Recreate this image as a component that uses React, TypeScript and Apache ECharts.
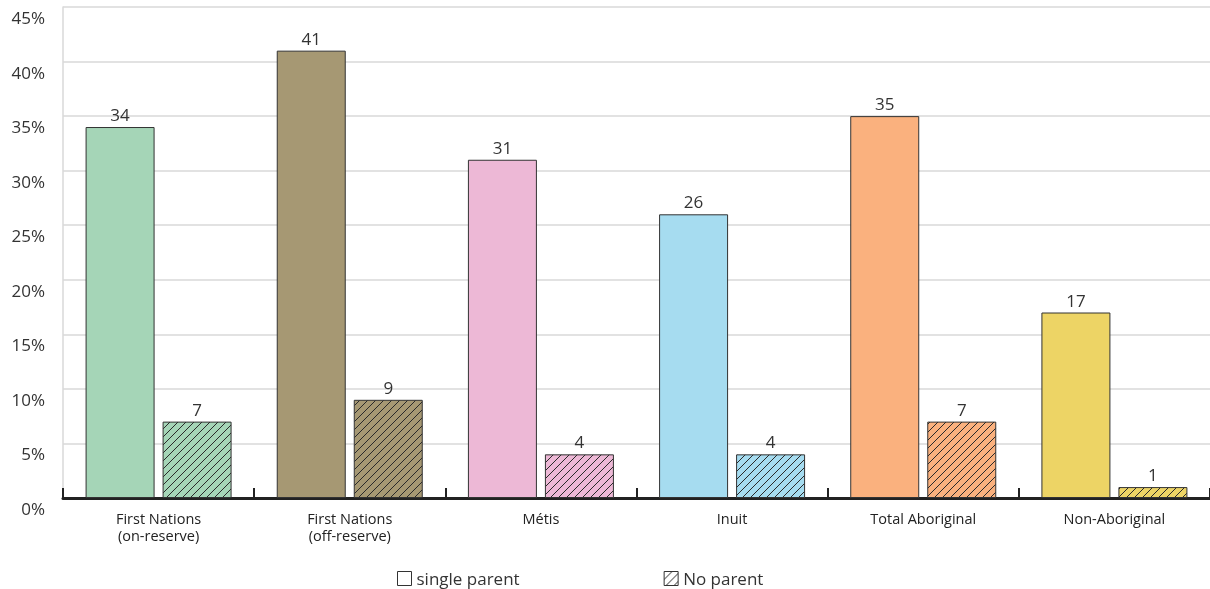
import React, { useEffect, useRef } from "react";
import * as echarts from "echarts";

const categories = [
  "First Nations\n(on-reserve)",
  "First Nations\n(off-reserve)",
  "Métis",
  "Inuit",
  "Total Aboriginal",
  "Non-Aboriginal",
];
const singleParent = [34, 41, 31, 26, 35, 17];
const noParent = [7, 9, 4, 4, 7, 1];
const barColors = ["#a5d5b7", "#a69873", "#edb8d6", "#a6dcf0", "#fab17e", "#edd465"];
const yTicks = [0, 5, 10, 15, 20, 25, 30, 35, 40, 45];

function hatch(color: string) {
  const s = 8;
  const c = document.createElement("canvas");
  c.width = s;
  c.height = s;
  const ctx = c.getContext("2d")!;
  ctx.fillStyle = color;
  ctx.fillRect(0, 0, s, s);
  ctx.strokeStyle = "#2a2a2a";
  ctx.lineWidth = 1;
  ctx.beginPath();
  ctx.moveTo(-1, s + 1);
  ctx.lineTo(s + 1, -1);
  ctx.moveTo(-1, 1);
  ctx.lineTo(1, -1);
  ctx.moveTo(s - 1, s + 1);
  ctx.lineTo(s + 1, s - 1);
  ctx.stroke();
  return { image: c, repeat: "repeat" } as any;
}

export default function App() {
  const ref = useRef<HTMLDivElement>(null);
  useEffect(() => {
    document.body.style.margin = "0";
    const chart = echarts.init(ref.current!, null, { renderer: "svg" });
    const font = "'Open Sans', sans-serif";
    chart.setOption({
      animation: false,
      textStyle: { fontFamily: font },
      grid: { left: 63, right: 0, top: 7, bottom: 91, containLabel: false },
      legend: {
        left: 397,
        top: 570,
        padding: 0,
        itemWidth: 14,
        itemHeight: 14,
        itemGap: 144,
        icon: "rect",
        textStyle: { fontSize: 17, color: "#333", fontFamily: font },
        data: [
          { name: "single parent", itemStyle: { color: "#fff", borderColor: "#333", borderWidth: 1 } },
          { name: "No parent", itemStyle: { color: hatch("#ffffff"), borderColor: "#333", borderWidth: 1 } },
        ],
      },
      xAxis: {
        type: "category",
        data: categories,
        axisLine: { lineStyle: { color: "#222", width: 3 } },
        axisTick: { show: true, inside: true, length: 10, lineStyle: { color: "#222", width: 2 } },
        axisLabel: { fontSize: 14.5, color: "#222", margin: 12, lineHeight: 17, fontFamily: font },
      },
      yAxis: {
        type: "value",
        min: 0,
        max: 45,
        interval: 5,
        axisLine: { show: true, lineStyle: { color: "#d9d9d9", width: 1.5 } },
        axisTick: { show: false },
        splitLine: { lineStyle: { color: "#d9d9d9", width: 1.5 } },
        axisLabel: {
          fontSize: 17,
          color: "#333",
          margin: 18,
          verticalAlign: "top",
          padding: [2, 0, 0, 0],
          fontFamily: font,
          formatter: (v: number) => (yTicks.includes(v) ? v + "%" : ""),
        },
      },
      series: [
        {
          name: "single parent",
          type: "bar",
          barWidth: 69,
          barGap: "11.6%",
          itemStyle: { color: "#fff", borderColor: "#333", borderWidth: 1 },
          label: { show: true, position: "top", distance: 4, fontSize: 17, color: "#333", fontFamily: font },
          data: singleParent.map((v, i) => ({ value: v, itemStyle: { color: barColors[i] } })),
        },
        {
          name: "No parent",
          type: "bar",
          barWidth: 69,
          itemStyle: { color: "#fff", borderColor: "#333", borderWidth: 1 },
          label: { show: true, position: "top", distance: 4, fontSize: 17, color: "#333", fontFamily: font },
          data: noParent.map((v, i) => ({ value: v, itemStyle: { color: hatch(barColors[i]) } })),
        },
      ],
    });
    return () => chart.dispose();
  }, []);
  return <div ref={ref} style={{ position: "fixed", left: 0, top: 0, width: 1210, height: 589 }} />;
}
